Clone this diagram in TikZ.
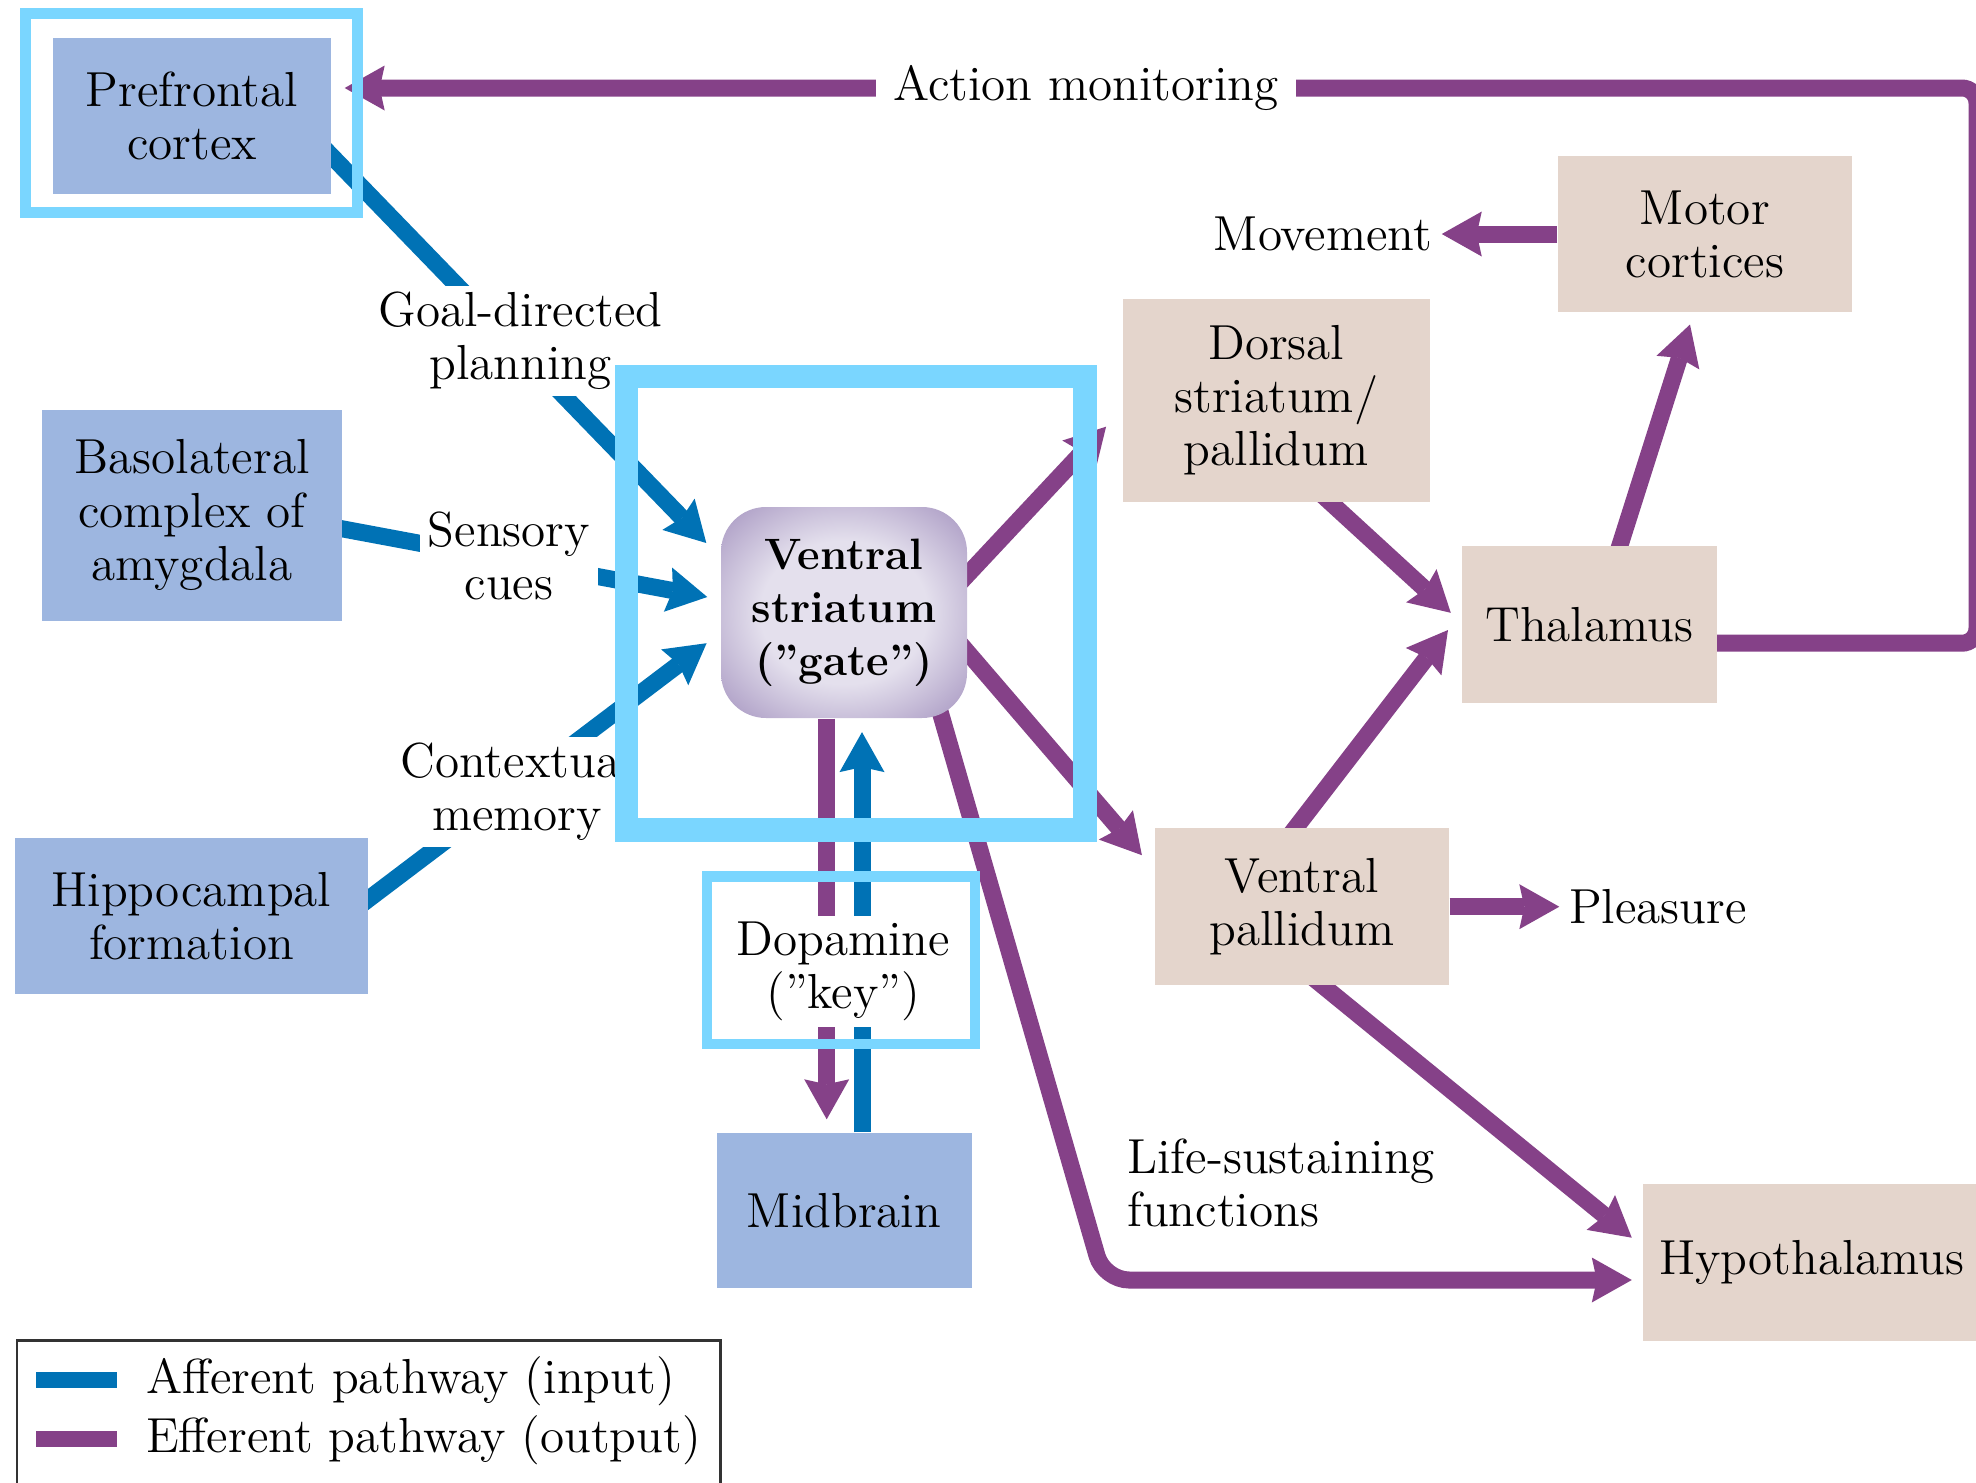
\documentclass[tikz,border=0pt]{standalone}
\usepackage{fontspec}
\usetikzlibrary{arrows.meta}

\definecolor{inblue}{RGB}{157,182,224}
\definecolor{outtan}{RGB}{228,213,204}
\definecolor{affblue}{RGB}{0,114,181}
\definecolor{effpurple}{RGB}{133,65,136}
\definecolor{hilite}{RGB}{122,214,255}
\definecolor{gatein}{RGB}{228,224,237}
\definecolor{gateout}{RGB}{164,147,191}

\pgfdeclareradialshading{gateshade}{\pgfpoint{0bp}{0bp}}{color(0bp)=(gatein); color(17bp)=(gatein); color(36bp)=(gateout); color(50bp)=(gateout)}

\pgfdeclarelayer{background}
\pgfsetlayers{background,main}

\tikzset{
    inbox/.style={fill=inblue, align=center, inner sep=0pt},
    outbox/.style={fill=outtan, align=center, inner sep=0pt},
    gatebox/.style={rounded corners=0.45cm, shade, shading=gateshade, align=center, inner sep=0pt, font=\fontsize{12.5}{15.1}\selectfont\bfseries},
    tag/.style={fill=white, align=center, inner xsep=0.08cm, inner ysep=0.06cm},
    afferent/.style={draw=affblue, line width=0.17cm, -{Stealth[length=0.4cm, width=0.45cm, inset=0.05cm, line width=0pt]}},
    efferent/.style={draw=effpurple, line width=0.17cm, -{Stealth[length=0.4cm, width=0.45cm, inset=0.05cm, line width=0pt]}},
    hiliteframe/.style={draw=hilite},
}

\begin{document}
\begin{tikzpicture}[font=\fontsize{14}{15.1}\selectfont]
    \path[use as bounding box] (0,0) rectangle (19.76,-14.83);

    % Input regions
    \node[inbox, minimum width=2.78cm, minimum height=1.56cm] (pfc) at (1.92,-1.156) {Prefrontal\\cortex};
    \node[inbox, minimum width=2.99cm, minimum height=2.11cm] (bla) at (1.92,-5.15) {Basolateral\\complex of\\amygdala};
    \node[inbox, minimum width=3.53cm, minimum height=1.56cm] (hip) at (1.915,-9.16) {Hippocampal\\formation};
    \node[inbox, minimum width=2.55cm, minimum height=1.55cm] (mid) at (8.44,-12.105) {Midbrain};

    % The gate
    \node[gatebox, minimum width=2.46cm, minimum height=2.11cm] (vs) at (8.44,-6.125) {Ventral\\striatum\\(''gate'')};

    % Output regions
    \node[outbox, minimum width=3.07cm, minimum height=2.03cm] (dors) at (12.763,-4.002) {Dorsal\\striatum/\\pallidum};
    \node[outbox, minimum width=2.94cm, minimum height=1.56cm] (motor) at (17.049,-2.34) {Motor\\cortices};
    \node[outbox, minimum width=2.55cm, minimum height=1.57cm] (thal) at (15.892,-6.242) {Thalamus};
    \node[outbox, minimum width=2.94cm, minimum height=1.57cm] (vp) at (13.019,-9.067) {Ventral\\pallidum};
    \node[outbox, anchor=west, text width=3.3cm, align=left, inner xsep=0.16cm, minimum height=1.574cm] (hypo) at (16.424,-12.627) {Hypothalamus};

    % Labels on the pathways
    \node[tag, inner xsep=0.17cm] (actmon) at (10.86,-0.88) {Action monitoring};
    \node[tag, inner xsep=0.09cm, inner ysep=0pt] (move) at (13.23,-2.34) {Movement};
    \node[tag] (goal) at (5.205,-3.41) {Goal-directed\\planning};
    \node[tag] (sens) at (5.09,-5.556) {Sensory\\cues};
    \node[tag] (ctx) at (5.17,-7.917) {Contextual\\memory};
    \node[tag] (dopa) at (8.433,-9.715) {Dopamine\\(''key'')};
    \node[tag, inner xsep=0.09cm, inner ysep=0pt] (pleas) at (16.578,-9.067) {Pleasure};
    \node[anchor=west, align=left, inner sep=0pt] (life) at (11.267,-11.83) {Life-sustaining\\functions};

    \coordinate (lifebend) at (11.04,-12.80);
    \coordinate (loopturn) at (19.77,-0.88);

    \begin{pgfonlayer}{background}
        % Afferent pathways (input)
        \draw[afferent] ([shift={(-0.15,-0.25)}]pfc.east) -- ([shift={(-0.14,0.695)}]vs.west);
        \draw[afferent] ([shift={(-0.15,-0.11)}]bla.east) -- ([shift={(-0.13,0.155)}]vs.west);
        \draw[afferent] ([shift={(-0.15,0.057)}]hip.east) -- ([shift={(-0.137,-0.307)}]vs.west);
        \draw[afferent] ([xshift=0.18cm]mid.north) -- ([xshift=0.18cm,yshift=-0.134cm]vs.south);
        % Efferent pathways (output)
        \draw[efferent] ([xshift=-0.173cm]vs.south) -- ([xshift=-0.173cm,yshift=0.13cm]mid.north);
        \draw[efferent] ([shift={(-0.123,0.249)}]vs.east) -- ([shift={(-0.16,-0.265)}]dors.west);
        \draw[efferent] ([shift={(-0.118,-0.262)}]vs.east) -- ([shift={(-0.123,0.515)}]vp.west);
        \draw[efferent, rounded corners=0.25cm] ([shift={(0.86,0.42)}]vs.south) -- (lifebend) -- ([xshift=-0.106cm]hypo.west |- lifebend);
        \draw[efferent] ([shift={(0.432,0.10)}]dors.south) -- ([shift={(-0.102,0.114)}]thal.west);
        \draw[efferent] ([shift={(-0.15,-0.116)}]vp.north) -- ([shift={(-0.13,-0.058)}]thal.west);
        \draw[efferent] ([shift={(0.262,-0.146)}]thal.north) -- ([shift={(-0.149,-0.118)}]motor.south);
        \draw[efferent] (motor) -- (move);
        \draw[efferent] (vp) -- (pleas);
        \draw[efferent] ([shift={(0.095,0.095)}]vp.south) -- ([shift={(-0.106,0.25)}]hypo.west);
        \draw[efferent, rounded corners=0.15cm] ([shift={(-0.1,-0.19)}]thal.east) -| (loopturn) -- ([shift={(0.13,0.276)}]pfc.east);
    \end{pgfonlayer}

    % Highlight frames
    \draw[hiliteframe, line width=0.11cm] (0.25,-0.135) rectangle (3.57,-2.125);
    \draw[hiliteframe, line width=0.233cm] (6.267,-3.767) rectangle (10.85,-8.30);
    \draw[hiliteframe, line width=0.105cm] (7.07,-8.767) rectangle (9.75,-10.44);

    % Legend
    \draw[black!80, line width=0.7pt] (0.172,-13.407) rectangle (7.207,-15.2);
    \draw[affblue, line width=0.165cm] (0.364,-13.80) -- (1.167,-13.80);
    \draw[effpurple, line width=0.165cm] (0.364,-14.39) -- (1.167,-14.39);
    \node[anchor=west, inner sep=0pt] (afftext) at (1.454,-13.815) {Afferent pathway (input)};
    \node[anchor=west, inner sep=0pt] (efftext) at (1.454,-14.405) {Efferent pathway (output)};
\end{tikzpicture}
\end{document}
